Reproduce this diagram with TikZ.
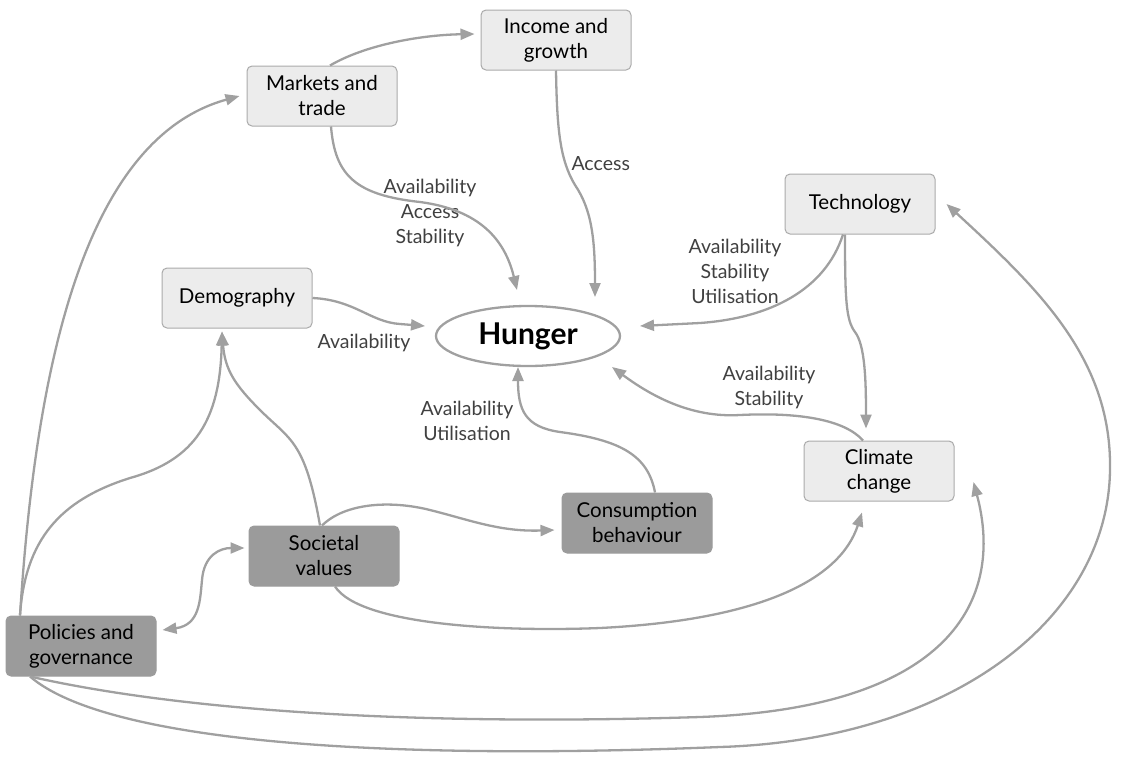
\documentclass[tikz,border=0pt]{standalone}
\usepackage{fontspec}
\setmainfont{Lato}
\usetikzlibrary{arrows.meta,shapes.geometric}
\definecolor{linkgray}{HTML}{A0A0A0}
\definecolor{boxlight}{HTML}{ECECEC}
\definecolor{boxdark}{HTML}{9B9B9B}
\tikzset{>={Triangle[length=14pt,width=11pt]}}
\tikzset{
  factor/.style={rounded corners=5pt,minimum width=150pt,minimum height=60pt,align=center,
    font=\fontsize{20.5}{25}\selectfont,line width=1pt},
  lightbox/.style={factor,fill=boxlight,draw=linkgray!90},
  darkbox/.style={factor,fill=boxdark,draw=boxdark},
  link/.style={draw=linkgray,line width=2.3pt,->},
  lbl/.style={align=center,text=black!75,font=\fontsize{19.5}{25}\selectfont}
}

\begin{document}
\begin{tikzpicture}[x=1pt,y=-1pt]
\useasboundingbox (0,0) rectangle (1122,758);
% boxes
\node (inc) [lightbox] at (556,40) {Income and\\growth};
\node (mkt) [lightbox] at (322,96) {Markets and\\trade};
\node (tech) [lightbox] at (860,204) {Technology};
\node (dem) [lightbox] at (237,298) {Demography};
\node (clim) [lightbox] at (879,471) {Climate\\change};
\node (cons) [darkbox] at (637,523) {Consumption\\behaviour};
\node (soc) [darkbox] at (324,556) {Societal\\values};
\node (pol) [darkbox] at (81,646) {Policies and\\governance};
\node (hun) [ellipse,draw=linkgray,line width=2.3pt,fill=white,minimum width=184pt,minimum height=60pt,inner sep=0pt,
  font=\fontsize{30}{32}\selectfont\bfseries] at (528,336) {Hunger};
% labels
\node (lacc) [lbl,anchor=west] at (568,164) {Access};
\node (lmkt) [lbl] at (430,213) {Availability\\Access\\Stability};
\node (ldem) [lbl] at (364,343) {Availability};
\node (ltech) [lbl] at (735,271) {Availability\\Stability\\Utilisation};
\node (lclim) [lbl] at (769,387) {Availability\\Stability};
\node (lcons) [lbl] at (467,421) {Availability\\Utilisation};
% links to hunger
\draw[link] (inc.south) .. controls (557,130) and (560,160) .. (575,185) .. controls (592,210) and (595,240) .. ([shift={(67,-39)}]hun.center);
\draw[link] ([shift={(9,0)}]mkt.south) .. controls (335,175) and (355,195) .. (420,202) .. controls (480,210) and (505,240) .. ([shift={(-11,-46)}]hun.center);
\draw[link] (dem.east) .. controls (355,300) and (370,322) .. (400,324) -- ([shift={(-103,-10)}]hun.center);
\draw[link] ([shift={(-17,0)}]tech.south) .. controls (825,290) and (770,318) .. (700,323) -- ([shift={(112,-10)}]hun.center);
\draw[link] ([shift={(-16,0)}]clim.north) .. controls (845,420) and (800,412) .. (740,415) .. controls (690,418) and (650,395) .. ([shift={(84,31)}]hun.center);
\draw[link] ([shift={(18,0)}]cons.north) .. controls (648,455) and (620,440) .. (560,432) .. controls (525,427) and (518,410) .. ([shift={(-10,31)}]hun.center);
% links between factors
\draw[link] ([shift={(8,0)}]mkt.north) .. controls (365,45) and (420,35) .. ([shift={(-6,-6)}]inc.west);
\draw[link] ([shift={(-15,0)}]tech.south) .. controls (845,300) and (846,320) .. (855,332) .. controls (865,345) and (866,380) .. ([shift={(-13,-12)}]clim.north);
\draw[link] ([shift={(-4,0)}]soc.north) .. controls (305,440) and (290,440) .. (260,410) .. controls (235,385) and (225,370) .. ([shift={(-15,3)}]dem.south);
\draw[link] ([shift={(-2,0)}]soc.north) .. controls (345,503) and (390,500) .. (430,510) .. controls (470,520) and (500,532) .. ([shift={(-7,7)}]cons.west);
\draw[link] ([shift={(11,0)}]soc.south) .. controls (360,625) and (500,632) .. (600,628) .. controls (760,620) and (840,580) .. ([shift={(-17,11)}]clim.south);
\draw[link,<->] ([shift={(6,-16)}]pol.east) .. controls (200,625) and (200,600) .. (202,580) .. controls (204,555) and (220,548) .. ([shift={(-4,-8)}]soc.west);
\draw[link] ([shift={(-61,0)}]pol.north) .. controls (25,540) and (60,500) .. (130,478) .. controls (195,460) and (220,420) .. ([shift={(-15,3)}]dem.south);
\draw[link] ([shift={(-61,0)}]pol.north) .. controls (35,380) and (80,140) .. ([shift={(-7,0)}]mkt.west);
\draw[link] ([shift={(-51,0)}]pol.south) .. controls (200,715) and (450,725) .. (700,717) .. controls (950,708) and (1005,600) .. ([shift={(19,11)}]clim.east);
\draw[link] ([shift={(-51,0)}]pol.south) .. controls (110,745) and (400,760) .. (720,747) .. controls (950,740) and (1108,620) .. (1110,470) .. controls (1112,360) and (1040,290) .. ([shift={(11,0)}]tech.east);
\end{tikzpicture}
\end{document}
